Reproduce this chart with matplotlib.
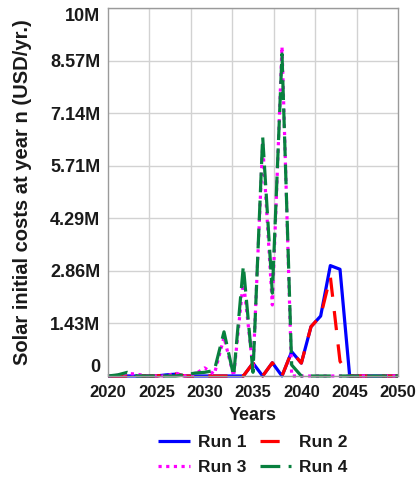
"""
파일명 : plot.py
설명   : 연도별 태양광 초기 비용 (Run 1 ~ Run 4) 선 그래프 재현
"""

import numpy as np
import matplotlib
matplotlib.use("Agg")
import matplotlib.pyplot as plt

#####################################################################
# 데이터 (단위 : 백만 USD/yr.)
#####################################################################

years = list(range(2020, 2051))

run1 = [0, 0, 0, 0, 0, 0, 0.03, 0.05, 0, 0, 0, 0, 0, 0, 0,
        0.35, 0, 0.36, 0, 0.66, 0.35, 1.34, 1.63, 3.0, 2.9,
        0, 0, 0, 0, 0, 0]
run2 = [0, 0, 0, 0, 0, 0, 0.03, 0.05, 0, 0, 0, 0, 0, 0, 0,
        0.35, 0, 0.36, 0, 0.66, 0.35, 1.34, 1.63, 2.7, 0.4,
        0, 0, 0, 0, 0, 0]
run3 = [0, 0.02, 0.07, 0.05, 0, 0, 0, 0.08, 0, 0.05, 0.22, 0.05, 1.05, 0, 2.6,
        0.2, 6.3, 1.93, 8.95, 0, 0, 0, 0, 0, 0,
        0, 0, 0, 0, 0, 0]
run4 = [0, 0.03, 0.1, 0, 0, 0, 0, 0, 0.03, 0.08, 0.1, 0.15, 1.2, 0, 2.99,
        0.1, 6.5, 2.25, 8.75, 0.3, 0, 0, 0, 0, 0,
        0, 0, 0, 0, 0, 0]

run_labels = ["Run 1", "Run 2", "Run 3", "Run 4"]
x_ticks = [2020, 2025, 2030, 2035, 2040, 2045, 2050]
y_tick_labels = ["0", "1.43M", "2.86M", "4.29M", "5.71M", "7.14M", "8.57M", "10M"]

#####################################################################
# 스타일 설정
#####################################################################

plt.rcParams["font.family"] = ["Liberation Sans", "DejaVu Sans"]
plt.rcParams["font.weight"] = "bold"

TEXT_COLOR = "#1a1a1a"
GRID_COLOR = "#d2d2d2"
SPINE_COLOR = "#9a9a9a"
LW = 2.3

styles = [
    dict(color="#0000ff", linestyle="-"),
    dict(color="#ff0000", linestyle=(0, (6, 4.5))),
    dict(color="#ff00ff", linestyle=(0, (1, 1.4))),
    dict(color="#08803e", linestyle=(0, (6.2, 2.6))),
]

#####################################################################
# 그래프 그리기
#####################################################################

fig = plt.figure(figsize=(4.19, 4.78), dpi=100)
ax = fig.add_axes([108 / 419, 1 - 376 / 478, 290 / 419, 368 / 478])

lines = []
for vals, lab, st in zip([run1, run2, run3, run4], run_labels, styles):
    ln, = ax.plot(years, vals, linewidth=LW, label=lab, clip_on=False,
                  solid_capstyle="butt", dash_capstyle="butt", **st)
    lines.append(ln)

ax.set_xlim(2020, 2050)
ax.set_ylim(0, 10)

# x축 : 라벨은 5년 간격, 격자는 7등분
ax.set_xticks(x_ticks)
ax.set_xticklabels([str(y) for y in x_ticks])
ax.set_xticks(np.linspace(2020, 2050, 8), minor=True)
ax.set_yticks(np.linspace(0, 10, 8))
ax.set_yticklabels(y_tick_labels)

ax.grid(False)
ax.grid(True, which="minor", axis="x", color=GRID_COLOR, linewidth=1)
ax.grid(True, which="major", axis="y", color=GRID_COLOR, linewidth=1)
ax.set_axisbelow(True)

ax.tick_params(which="both", length=0)
ax.tick_params(axis="x", pad=6.5, labelsize=12, labelcolor=TEXT_COLOR)
ax.tick_params(axis="y", pad=5.5, labelsize=13, labelcolor=TEXT_COLOR)

# 처음/마지막 y 라벨은 축 안쪽으로 붙임
ylabs = ax.get_yticklabels()
ylabs[0].set_va("bottom")
ylabs[-1].set_va("top")

for sp in ax.spines.values():
    sp.set_color(SPINE_COLOR)
    sp.set_linewidth(1)

fig.text(23 / 419, 1 - 192 / 478, "Solar initial costs at year n (USD/yr.)",
         rotation=90, ha="center", va="center", fontsize=14.5,
         fontweight="bold", color=TEXT_COLOR)
fig.text(253 / 419, 1 - 416 / 478, "Years", ha="center", va="center",
         fontsize=13, fontweight="bold", color=TEXT_COLOR)

#####################################################################
# 범례 (행 단위 : Run1, Run2 / Run3, Run4)
#####################################################################

order = [0, 2, 1, 3]
fig.legend([lines[i] for i in order], [run_labels[i] for i in order],
           ncol=2, loc="center", bbox_to_anchor=(253 / 419, 1 - 455 / 478),
           frameon=False, fontsize=12.5, handlelength=1.8, handletextpad=0.45,
           columnspacing=0.8, labelspacing=0.55, labelcolor=TEXT_COLOR)

fig.savefig("out.png", dpi=100)
